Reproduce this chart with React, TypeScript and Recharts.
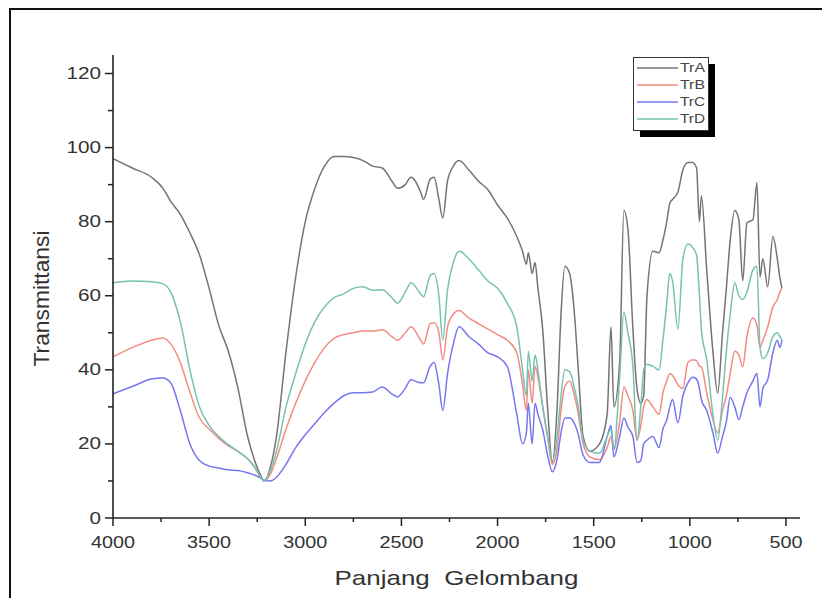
import { Legend, Line, LineChart, XAxis, YAxis } from "recharts";

// FTIR spectra
const wavenumbers = [
  4000, 3900, 3800, 3740, 3700, 3650, 3600, 3550, 3500, 3450,
  3400, 3350, 3300, 3260, 3232, 3215, 3180, 3150, 3100, 3050,
  3000, 2950, 2900, 2850, 2800, 2750, 2700, 2650, 2600, 2550,
  2520, 2480, 2450, 2400, 2385, 2350, 2330, 2305, 2285, 2260,
  2230, 2200, 2150, 2100, 2050, 2000, 1950, 1900, 1870, 1850,
  1840, 1820, 1805, 1790, 1765, 1740, 1715, 1690, 1670, 1650,
  1625, 1600, 1580, 1555, 1520, 1470, 1430, 1410, 1395, 1365,
  1343, 1322, 1296, 1275, 1255, 1240, 1223, 1192, 1160, 1140,
  1120, 1104, 1090, 1062, 1036, 1010, 985, 965, 950, 940,
  912, 880, 855, 830, 810, 790, 766, 745, 725, 703,
  672, 651, 635, 620, 595, 568, 545, 532, 521,
];

const trA = [
  97, 94.5, 92, 89, 85.5, 82, 77, 71, 62, 52,
  45, 35, 22, 15, 11.5, 10, 14, 22, 45, 65,
  80, 89, 95, 97.6, 97.6, 97.3, 96.5, 95, 94.5, 91,
  89, 90, 92, 88, 86, 91.5, 92, 86, 81, 91,
  95, 96.5, 94, 91, 88.6, 84.5, 81, 76, 72, 68.5,
  71.6, 66, 69, 62, 50.8, 30, 15, 30, 55, 68,
  66, 55, 40, 22, 18, 20, 28, 51.6, 30, 42,
  83, 78, 51, 35, 31, 33, 59.7, 72, 71.6, 75,
  80, 85, 86, 88, 94, 96, 96, 94.5, 80, 87,
  67, 45, 33.7, 50, 62, 75, 83, 80.5, 64, 79.7,
  80.5, 90.5, 65, 70, 62.4, 76, 70, 65, 62,
];

const trB = [
  43.5, 46, 48, 48.6, 47, 42, 34, 27, 24, 21.5,
  19.5, 18, 16, 13.5, 11, 10, 12, 16, 24, 31,
  37, 42, 46, 48.5, 49.5, 50, 50.5, 50.5, 50.8, 49,
  48, 50, 51.6, 48, 47, 52.5, 52.7, 50, 42.7, 51.6,
  55, 56, 54, 52.5, 51, 49.5, 48, 44.6, 36, 29,
  40, 31, 41, 38, 30, 22, 14.5, 19, 29, 35.5,
  37, 33, 28, 20, 16.5, 15.7, 19, 22, 18.4, 26,
  35.4, 33, 29, 21, 25, 30, 32, 30, 28, 33.8,
  37, 39, 38.5, 36, 35, 42, 42.7, 42.5, 41, 40.8,
  33.8, 26.5, 23, 29, 33, 39, 45, 44, 40.8, 49,
  54, 52, 46, 48, 51.6, 57, 59, 61, 62,
];

const trC = [
  33.5, 35.5, 37.5, 37.8, 36.5, 29, 20, 15.5, 14, 13.5,
  13, 12.8, 12.2, 11.5, 10.8, 10.2, 10, 11, 14.5, 19,
  22.5, 25.5, 28.5, 31, 33, 33.8, 33.8, 34, 35.4, 33.5,
  32.7, 35, 37.3, 36.5, 36.5, 41, 42, 36, 29, 39,
  47, 51.6, 49, 47, 44.6, 43.5, 41, 28, 20, 23,
  31, 20, 31, 28, 23.8, 17, 12.5, 16, 23, 27,
  27, 25.5, 22.5, 17, 15, 15, 22, 25, 16.5, 22,
  27, 24.5, 22, 15, 15.5, 20, 21, 22, 19, 24,
  26.5, 30, 32, 25.7, 33, 36.5, 38, 37.5, 35, 32,
  29, 23, 17.5, 22, 26, 32.5, 30, 26.5, 30, 33.8,
  37, 39, 30, 35, 37.3, 44.6, 48, 46, 48,
];

const trD = [
  63.5, 64, 63.8, 63.2, 61, 53, 40, 30, 25, 22,
  19.8, 18, 16, 13.5, 11, 10, 13, 18, 30, 39,
  47, 53, 57, 59.5, 60.5, 62, 62.4, 61.5, 61.6, 59.5,
  58, 61, 63.5, 60.5, 59.7, 65.5, 66, 60, 48, 61.6,
  69, 72, 70, 67, 64, 62, 58, 51.6, 40, 33,
  45, 37, 44, 40, 30, 22, 15.5, 22, 33, 40,
  39.5, 35, 30, 21, 18, 17.5, 22, 24, 18.5, 38,
  55.6, 50, 41, 21, 30, 40, 41.5, 41, 40, 48,
  58, 66, 64, 51, 70, 74, 73, 71, 60, 51,
  42.7, 28, 21, 32.7, 45, 55, 63.5, 60, 59, 61,
  67, 68, 46, 43, 44.6, 49, 50, 49, 48,
];

const xTicks = [
  4000, 3750, 3500, 3250, 3000, 2750, 2500, 2250, 2000, 1750, 1500, 1250,
  1000, 750, 500,
];
const yTicks = [0, 10, 20, 30, 40, 50, 60, 70, 80, 90, 100, 110, 120];

const series = [
  { name: "TrA", values: trA, color: "#747474" },
  { name: "TrB", values: trB, color: "#f08c84" },
  { name: "TrC", values: trC, color: "#7676f0" },
  { name: "TrD", values: trD, color: "#78c2b2" },
];

const rows = wavenumbers.map((w, i) => {
  const row: Record<string, number> = { w };
  series.forEach((s) => {
    row[s.name] = s.values[i];
  });
  return row;
});

const FONT = "'Liberation Sans', Arial, sans-serif";
const INK = "#222";

function YTick({ x, y, payload }: any) {
  const axisX = x + 12;
  const major = payload.value % 20 === 0;
  const label = String(payload.value);
  return (
    <g>
      <line x1={axisX - (major ? 8 : 5)} x2={axisX} y1={y} y2={y} stroke={INK} strokeWidth={1.5} />
      {major && (
        <text
          x={x}
          y={y}
          textAnchor="end"
          dominantBaseline="central"
          fontSize={17}
          fill="#333"
          textLength={label.length * 11.5}
          lengthAdjust="spacingAndGlyphs"
        >
          {label}
        </text>
      )}
    </g>
  );
}

function XTick({ x, y, payload }: any) {
  const axisY = y - 18;
  const major = payload.value % 500 === 0;
  const label = String(payload.value);
  return (
    <g>
      <line x1={x} x2={x} y1={axisY} y2={axisY + (major ? 8 : 4)} stroke={INK} strokeWidth={1.5} />
      {major && (
        <text
          x={x}
          y={y + 6}
          textAnchor="middle"
          dominantBaseline="central"
          fontSize={17}
          fill="#333"
          textLength={label.length * 11}
          lengthAdjust="spacingAndGlyphs"
        >
          {label}
        </text>
      )}
    </g>
  );
}

function LegendBox({ payload }: any) {
  return (
    <svg width={86} height={84} style={{ display: "block" }}>
      <rect x={7} y={7} width={75} height={73} fill="#000" />
      <rect x={0.5} y={0.5} width={75} height={73} fill="#fff" stroke="#333" />
      {(payload || []).map((p: any, i: number) => (
        <g key={p.value}>
          <line x1={4} x2={45} y1={11 + i * 17} y2={11 + i * 17} stroke={p.color} strokeWidth={1.3} />
          <text
            x={47}
            y={11 + i * 17}
            dominantBaseline="central"
            fontSize={12}
            fill="#444"
            fontFamily={FONT}
            textLength={25}
            lengthAdjust="spacingAndGlyphs"
          >
            {p.value}
          </text>
        </g>
      ))}
    </svg>
  );
}

function XTitle({ viewBox }: any) {
  const cx = viewBox.x + viewBox.width / 2;
  return (
    <text
      x={cx}
      y={viewBox.y + 59}
      textAnchor="middle"
      dominantBaseline="central"
      fontSize={21}
      fill="#333"
      textLength={244}
      lengthAdjust="spacingAndGlyphs"
    >
      Panjang&#160;&#160;Gelombang
    </text>
  );
}

function YTitle({ viewBox }: any) {
  const cx = 41;
  const cy = viewBox.y + viewBox.height / 2 + 12;
  return (
    <text
      x={cx}
      y={cy}
      transform={`rotate(-90 ${cx} ${cy})`}
      textAnchor="middle"
      dominantBaseline="central"
      fontSize={22}
      fill="#333"
      textLength={136}
      lengthAdjust="spacingAndGlyphs"
    >
      Transmittansi
    </text>
  );
}

export default function App() {
  return (
    <div
      style={{
        position: "absolute",
        left: 0,
        top: 0,
        width: 822,
        height: 598,
        background: "#fff",
        overflow: "hidden",
        fontFamily: FONT,
      }}
    >
      <div
        style={{
          position: "absolute",
          left: 9,
          top: 8,
          right: 0,
          bottom: 0,
          borderLeft: "2px solid #111",
          borderTop: "2px solid #111",
        }}
      />
      <LineChart
        width={822}
        height={598}
        data={rows}
        margin={{ top: 55, right: 22, bottom: 0, left: 0 }}
        style={{ fontFamily: FONT }}
      >
        <XAxis
          dataKey="w"
          type="number"
          domain={[427, 4000]}
          reversed
          ticks={xTicks}
          interval={0}
          height={80}
          tickSize={8}
          tickMargin={10}
          tickLine={false}
          tick={<XTick />}
          axisLine={{ stroke: INK, strokeWidth: 1.6 }}
          allowDataOverflow
          label={<XTitle />}
        />
        <YAxis
          type="number"
          domain={[0, 125]}
          ticks={yTicks}
          interval={0}
          width={113}
          tickSize={8}
          tickMargin={4}
          tickLine={false}
          tick={<YTick />}
          axisLine={{ stroke: INK, strokeWidth: 1.6 }}
          allowDataOverflow
          label={<YTitle />}
        />
        <Legend
          layout="vertical"
          align="center"
          verticalAlign="middle"
          content={<LegendBox />}
          wrapperStyle={{ left: 633, top: 57, width: 86, height: 84 }}
        />
        {series.map((s) => (
          <Line
            key={s.name}
            name={s.name}
            dataKey={s.name}
            type="monotone"
            stroke={s.color}
            strokeWidth={1.5}
            dot={false}
            activeDot={false}
            isAnimationActive={false}
          />
        ))}
      </LineChart>
    </div>
  );
}
